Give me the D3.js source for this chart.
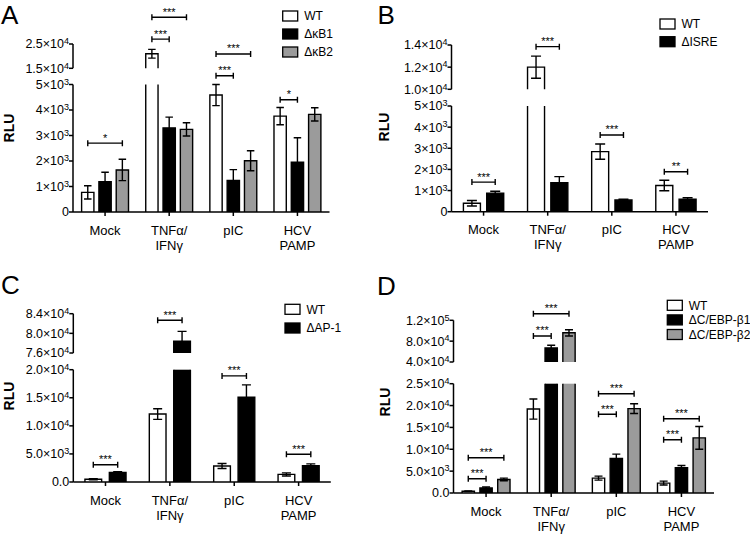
<!DOCTYPE html>
<html lang="en">
<head>
<meta charset="UTF-8" />
<title>RLU reporter panels</title>
<script src="https://d3js.org/d3.v7.min.js"></script>
<style>
  body { margin: 0; background: #fff; }
  svg { display: block; font-family: Arial, "Liberation Sans", sans-serif; }
</style>
</head>
<body>
<div id="chart"></div>
<script>
// categories shared by all four panels
const catKeys = ["Mock", "TNF", "pIC", "HCV"];
const catLabels = [["Mock"], ["TNFα/", "IFNγ"], ["pIC"], ["HCV", "PAMP"]];

// Panel A
const seriesA = ["WT", "ΔκB1", "ΔκB2"];
const valuesA = [[770, 21000, 4590, 3760], [1190, 3300, 1240, 1950], [1650, 3240, 2010, 3830]];
const errorsA = [[260, 1800, 420, 340], [370, 420, 420, 960], [420, 260, 390, 260]];
const ticksLowA = [0, 1000, 2000, 3000, 4000, 5000];
const tickLabelsLowA = ["0", "1×10^3", "2×10^3", "3×10^3", "4×10^3", "5×10^3"];
const ticksHighA = [15000, 25000];
const tickLabelsHighA = ["1.5×10^4", "2.5×10^4"];
// [category, from series, to series, level in RLU, stars]
const bracketsA = [[0, 0, 2, 2700, "*"], [1, 0, 1, 27000, "***"], [1, 0, 2, 36000, "***"],
                   [2, 0, 1, 10400, "***"], [2, 0, 2, 20900, "***"], [3, 0, 1, 4400, "*"]];

// Panel B
const seriesB = ["WT", "ΔISRE"];
const valuesB = [[400, 12000, 2840, 1240], [880, 1370, 550, 590]];
const errorsB = [[130, 1000, 360, 250], [90, 290, 40, 70]];
const ticksLowB = [0, 1000, 2000, 3000, 4000, 5000];
const tickLabelsLowB = ["0", "1×10^3", "2×10^3", "3×10^3", "4×10^3", "5×10^3"];
const ticksHighB = [10000, 12000, 14000];
const tickLabelsHighB = ["1.0×10^4", "1.2×10^4", "1.4×10^4"];
const bracketsB = [[0, 0, 1, 1400, "***"], [1, 0, 1, 13850, "***"], [2, 0, 1, 3630, "***"], [3, 0, 1, 1890, "**"]];

// Panel C
const seriesC = ["WT", "ΔAP-1"];
const valuesC = [[500, 12100, 2850, 1350], [1700, 78400, 15100, 2900]];
const errorsC = [[100, 950, 450, 280], [150, 2000, 2200, 330]];
const ticksLowC = [0, 5000, 10000, 15000, 20000];
const tickLabelsLowC = ["0.0", "5.0×10^3", "1.0×10^4", "1.5×10^4", "2.0×10^4"];
const ticksHighC = [76000, 80000, 84000];
const tickLabelsHighC = ["7.6×10^4", "8.0×10^4", "8.4×10^4"];
const bracketsC = [[0, 0, 1, 3080, "***"], [1, 0, 1, 82660, "***"], [2, 0, 1, 18900, "***"], [3, 0, 1, 4930, "***"]];

// Panel D
const seriesD = ["WT", "ΔC/EBP-β1", "ΔC/EBP-β2"];
const valuesD = [[400, 19200, 3400, 2270], [1150, 67000, 7900, 5780], [3100, 96000, 19300, 12600]];
const errorsD = [[60, 2300, 450, 450], [220, 5000, 1000, 500], [300, 6000, 1100, 2600]];
const ticksLowD = [0, 5000, 10000, 15000, 20000, 25000];
const tickLabelsLowD = ["0.0", "5.0×10^3", "1.0×10^4", "1.5×10^4", "2.0×10^4", "2.5×10^4"];
const ticksHighD = [40000, 80000, 120000];
const tickLabelsHighD = ["4.0×10^4", "8.0×10^4", "1.2×10^5"];
const bracketsD = [[0, 0, 1, 3270, "***"], [0, 0, 2, 8070, "***"], [1, 0, 1, 89900, "***"], [1, 0, 2, 132700, "***"],
                   [2, 0, 1, 18000, "***"], [2, 0, 2, 22710, "***"], [3, 0, 1, 12190, "***"], [3, 0, 2, 17000, "***"]];

const fills3 = ["#ffffff", "#000000", "#9b9b9b"];

const panels = [
  { letter: "A", series: seriesA, values: valuesA, errors: errorsA, ticksLow: ticksLowA, labelsLow: tickLabelsLowA,
    ticksHigh: ticksHighA, labelsHigh: tickLabelsHighA, brackets: bracketsA,
    x0: 73, x1: 329.5, yPix: [212, 84.5, 68.3, 44], barW: 12.3, gap: 5, cap: 7.5,
    legend: [282.7, 16, 18], letterPos: [1, 23.5], rlu: [13.5, 128] },
  { letter: "B", series: seriesB, values: valuesB, errors: errorsB, ticksLow: ticksLowB, labelsLow: tickLabelsLowB,
    ticksHigh: ticksHighB, labelsHigh: tickLabelsHighB, brackets: bracketsB,
    x0: 451.5, x1: 708, yPix: [211.7, 106, 89.3, 45], barW: 17, gap: 6.3, cap: 10,
    legend: [660, 24, 17.7], letterPos: [377.5, 23.5], rlu: [388.5, 127] },
  { letter: "C", series: seriesC, values: valuesC, errors: errorsC, ticksLow: ticksLowC, labelsLow: tickLabelsLowC,
    ticksHigh: ticksHighC, labelsHigh: tickLabelsHighC, brackets: bracketsC,
    x0: 73.3, x1: 330.8, yPix: [482, 369.7, 353, 313.7], barW: 16.7, gap: 7.7, cap: 9,
    legend: [285, 309.3, 18.7], letterPos: [1, 293.5], rlu: [13.5, 396] },
  { letter: "D", series: seriesD, values: valuesD, errors: errorsD, ticksLow: ticksLowD, labelsLow: tickLabelsLowD,
    ticksHigh: ticksHighD, labelsHigh: tickLabelsHighD, brackets: bracketsD,
    x0: 453.5, x1: 714, yPix: [493, 383.7, 362, 320.3], barW: 12.3, gap: 5.5, cap: 8,
    legend: [667.3, 305.3, 14.6], letterPos: [377, 295], rlu: [389.5, 402] }
];

const svg = d3.select("#chart").append("svg")
  .attr("width", 750).attr("height", 534)
  .attr("viewBox", [0, 0, 750, 534]);

// label with optional superscript written as "base^sup"
function supText(sel, s) {
  const [base, sup] = s.split("^");
  sel.append("tspan").text(base);
  if (sup) sel.append("tspan").attr("dy", "-0.45em").attr("font-size", "0.72em").text(sup);
}

for (const p of panels) {
  const g = svg.append("g");
  const n = p.series.length;
  const lowMax = p.ticksLow[p.ticksLow.length - 1];
  const highMin = p.ticksHigh[0];
  const highMax = p.ticksHigh[p.ticksHigh.length - 1];

  // broken axis: a polylinear scale, the gap is simply never drawn
  const y = d3.scaleLinear().domain([0, lowMax, highMin, highMax]).range(p.yPix);
  const x = d3.scaleBand().domain(catKeys).range([p.x0, p.x1]).padding(0);
  const groupW = n * p.barW + (n - 1) * p.gap;
  const sub = d3.scaleBand().domain(d3.range(n)).range([0, groupW])
    .paddingInner(p.gap / (p.barW + p.gap)).paddingOuter(0);
  const barX = (c, s) => x(catKeys[c]) + x.bandwidth() / 2 - groupW / 2 + sub(s);
  const fills = n === 2 ? ["#ffffff", "#000000"] : fills3;

  // bars
  p.values.forEach((row, s) => {
    row.forEach((v, c) => {
      const bx = barX(c, s), w = sub.bandwidth(), y0 = y(0);
      let d;
      if (v <= lowMax) {
        g.append("rect").attr("x", bx).attr("y", y(v)).attr("width", w).attr("height", y0 - y(v)).attr("fill", fills[s]);
        d = `M${bx},${y0}V${y(v)}H${bx + w}V${y0}`;
      } else {
        g.append("rect").attr("x", bx).attr("y", y(lowMax)).attr("width", w).attr("height", y0 - y(lowMax)).attr("fill", fills[s]);
        g.append("rect").attr("x", bx).attr("y", y(v)).attr("width", w).attr("height", y(highMin) - y(v)).attr("fill", fills[s]);
        d = `M${bx},${y0}V${y(lowMax)}M${bx + w},${y0}V${y(lowMax)}` +
            `M${bx},${y(highMin)}V${y(v)}H${bx + w}V${y(highMin)}`;
      }
      g.append("path").attr("d", d).attr("fill", "none").attr("stroke", "#000").attr("stroke-width", 1.4);
    });
  });

  // error bars
  p.values.forEach((row, s) => {
    row.forEach((v, c) => {
      const cx = barX(c, s) + sub.bandwidth() / 2, e = p.errors[s][c], h = p.cap / 2;
      const yt = y(v + e), yb = y(v - e);
      g.append("path")
        .attr("d", `M${cx},${yt}V${yb}M${cx - h},${yt}H${cx + h}M${cx - h},${yb}H${cx + h}`)
        .attr("fill", "none").attr("stroke", "#000").attr("stroke-width", 1.4);
    });
  });

  // x axis
  const y0 = y(0);
  g.append("line").attr("x1", p.x0).attr("x2", p.x1).attr("y1", y0).attr("y2", y0)
    .attr("stroke", "#000").attr("stroke-width", 1.5);
  catKeys.forEach((k, c) => {
    const cx = x(k) + x.bandwidth() / 2;
    g.append("line").attr("x1", cx).attr("x2", cx).attr("y1", y0).attr("y2", y0 + 4)
      .attr("stroke", "#000").attr("stroke-width", 1.5);
    const t = g.append("text").attr("y", y0 + 22.5).attr("text-anchor", "middle")
      .attr("font-size", 13).attr("fill", "#000");
    catLabels[c].forEach((line, i) => {
      t.append("tspan").attr("x", cx).attr("dy", i ? 15 : 0).text(line);
    });
  });

  // y axis, two segments
  const segs = [[0, lowMax, p.ticksLow, p.labelsLow], [highMin, highMax, p.ticksHigh, p.labelsHigh]];
  for (const [a, b, ticks, labels] of segs) {
    g.append("line").attr("x1", p.x0).attr("x2", p.x0).attr("y1", y(a)).attr("y2", y(b))
      .attr("stroke", "#000").attr("stroke-width", 1.5);
    ticks.forEach((t, i) => {
      g.append("line").attr("x1", p.x0 - 4).attr("x2", p.x0).attr("y1", y(t)).attr("y2", y(t))
        .attr("stroke", "#000").attr("stroke-width", 1.5);
      g.append("text").attr("x", p.x0 - 4).attr("y", y(t)).attr("dy", "0.35em")
        .attr("text-anchor", "end").attr("font-size", 12.5).attr("fill", "#000")
        .call(supText, labels[i]);
    });
  }

  // significance brackets
  for (const [c, s1, s2, level, stars] of p.brackets) {
    const xa = barX(c, s1) + sub.bandwidth() / 2, xb = barX(c, s2) + sub.bandwidth() / 2, yy = y(level);
    g.append("path")
      .attr("d", `M${xa},${yy}H${xb}M${xa},${yy - 3}V${yy + 3}M${xb},${yy - 3}V${yy + 3}`)
      .attr("fill", "none").attr("stroke", "#000").attr("stroke-width", 1.4);
    g.append("text").attr("x", (xa + xb) / 2).attr("y", yy - 1.5).attr("text-anchor", "middle")
      .attr("font-size", 11).attr("fill", "#000").text(stars);
  }

  // legend
  const [lx, ly, ldy] = p.legend;
  p.series.forEach((name, s) => {
    const cy = ly + s * ldy;
    g.append("rect").attr("x", lx).attr("y", cy - 5).attr("width", 15).attr("height", 10)
      .attr("fill", fills[s]).attr("stroke", "#000").attr("stroke-width", 1.3);
    g.append("text").attr("x", lx + 21.5).attr("y", cy).attr("dy", "0.36em")
      .attr("font-size", 12).attr("fill", "#000").text(name);
  });

  // panel letter and y title
  g.append("text").attr("x", p.letterPos[0]).attr("y", p.letterPos[1])
    .attr("font-size", 26).attr("fill", "#000").text(p.letter);
  g.append("text").attr("transform", `translate(${p.rlu[0]},${p.rlu[1]}) rotate(-90)`)
    .attr("text-anchor", "middle").attr("font-size", 14).attr("font-weight", "bold")
    .attr("fill", "#000").text("RLU");
}
</script>
</body>
</html>
